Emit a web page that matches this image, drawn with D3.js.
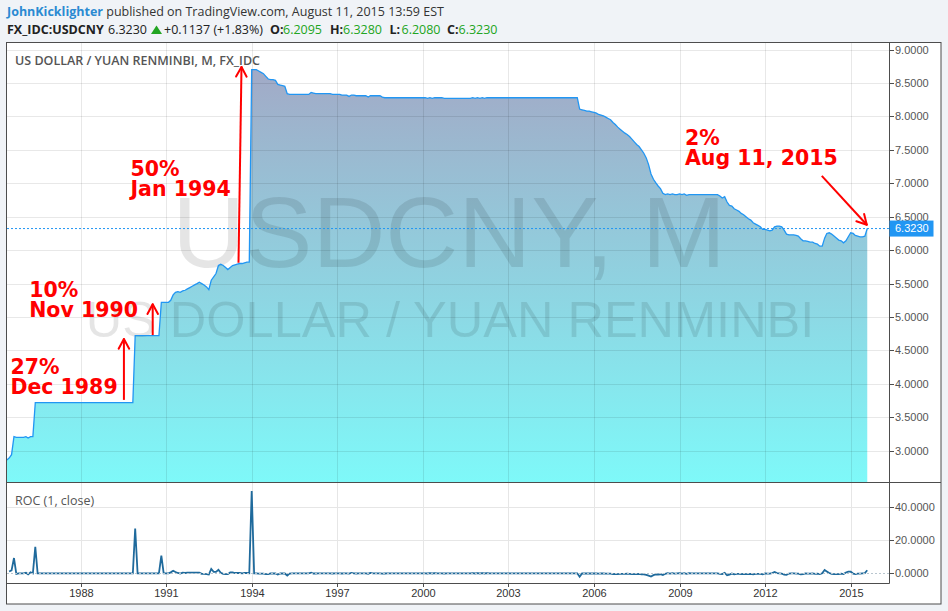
<!DOCTYPE html>
<html><head><meta charset="utf-8">
<script src="https://cdn.jsdelivr.net/npm/d3@7"></script>
<style>
html,body{margin:0;padding:0;background:#f0f3f7;}
svg{display:block;}
</style></head><body>
<svg id="c" width="948" height="611"></svg>
<script>
// ---------------- DATA ----------------
const startYear = 1985, startMonth = 5; // first monthly close: June 1985
const closes1985to1989 = [
  2.86, 2.89, 2.94, 3.21, 3.20, 3.20, 3.20,
  3.20, 3.21, 3.19, 3.21, 3.21, 3.72, 3.72, 3.72, 3.72, 3.72, 3.72, 3.72,
  3.72, 3.72, 3.72, 3.72, 3.72, 3.72, 3.72, 3.72, 3.72, 3.72, 3.72, 3.72,
  3.72, 3.72, 3.72, 3.72, 3.72, 3.72, 3.72, 3.72, 3.72, 3.72, 3.72, 3.72,
  3.72, 3.72, 3.72, 3.72, 3.72, 3.72, 3.72, 3.72, 3.72, 3.72, 3.72, 4.72
];
const closes1990to1994 = [
  4.72, 4.72, 4.72, 4.72, 4.72, 4.72, 4.72, 4.72, 4.72, 4.72, 5.22, 5.22,
  5.22, 5.22, 5.25, 5.33, 5.37, 5.38, 5.37, 5.39, 5.40, 5.42, 5.44, 5.46,
  5.48, 5.50, 5.52, 5.50, 5.48, 5.45, 5.41, 5.55, 5.60, 5.65, 5.77, 5.79,
  5.77, 5.74, 5.71, 5.74, 5.77, 5.78, 5.79, 5.80, 5.80, 5.81, 5.82, 5.82,
  8.70, 8.70, 8.70, 8.68, 8.66, 8.64, 8.60, 8.56, 8.55, 8.55, 8.54, 8.48
];
const closes1995to1999 = [
  8.47, 8.46, 8.45, 8.34, 8.33, 8.33, 8.33, 8.33, 8.33, 8.33, 8.33, 8.33,
  8.33, 8.36, 8.35, 8.34, 8.34, 8.34, 8.34, 8.34, 8.34, 8.34, 8.33, 8.33,
  8.33, 8.33, 8.32, 8.32, 8.32, 8.30, 8.32, 8.32, 8.31, 8.31, 8.31, 8.31,
  8.31, 8.29, 8.31, 8.31, 8.31, 8.31, 8.31, 8.29, 8.28, 8.28, 8.28, 8.28,
  8.28, 8.28, 8.28, 8.28, 8.28, 8.28, 8.28, 8.28, 8.28, 8.28, 8.28, 8.28
];
const closes2000to2004 = [
  8.28, 8.28, 8.27, 8.28, 8.27, 8.28, 8.28, 8.28, 8.28, 8.27, 8.27, 8.27,
  8.27, 8.27, 8.27, 8.27, 8.27, 8.27, 8.27, 8.27, 8.27, 8.28, 8.27, 8.28,
  8.27, 8.28, 8.27, 8.28, 8.28, 8.28, 8.28, 8.28, 8.28, 8.28, 8.28, 8.28,
  8.28, 8.28, 8.28, 8.28, 8.28, 8.28, 8.28, 8.28, 8.28, 8.28, 8.28, 8.28,
  8.28, 8.28, 8.28, 8.28, 8.28, 8.28, 8.28, 8.28, 8.28, 8.28, 8.28, 8.28
];
const closes2005to2009 = [
  8.28, 8.28, 8.28, 8.28, 8.28, 8.28, 8.11, 8.10, 8.09, 8.08, 8.08, 8.07,
  8.06, 8.05, 8.03, 8.02, 8.01, 7.99, 7.97, 7.95, 7.91, 7.88, 7.84, 7.81,
  7.78, 7.75, 7.73, 7.70, 7.66, 7.62, 7.58, 7.55, 7.50, 7.45, 7.38, 7.28,
  7.14, 7.06, 7.01, 6.96, 6.92, 6.85, 6.83, 6.84, 6.83, 6.84, 6.83, 6.83,
  6.84, 6.83, 6.84, 6.82, 6.83, 6.83, 6.83, 6.83, 6.83, 6.83, 6.83, 6.83
];
const closes2010to2015 = [
  6.83, 6.83, 6.83, 6.83, 6.83, 6.81, 6.78, 6.80, 6.72, 6.67, 6.66, 6.62,
  6.60, 6.58, 6.55, 6.53, 6.50, 6.47, 6.45, 6.41, 6.39, 6.37, 6.35, 6.31,
  6.31, 6.30, 6.29, 6.30, 6.35, 6.36, 6.36, 6.35, 6.30, 6.24, 6.23, 6.23,
  6.23, 6.22, 6.21, 6.17, 6.14, 6.14, 6.13, 6.12, 6.12, 6.10, 6.09, 6.06,
  6.06, 6.18, 6.25, 6.26, 6.24, 6.21, 6.18, 6.15, 6.14, 6.11, 6.14, 6.20,
  6.26, 6.25, 6.22, 6.21, 6.20, 6.20, 6.21, 6.323
];
const lastClose = 6.3230;
const priceTicks = [3.0, 3.5, 4.0, 4.5, 5.0, 5.5, 6.0, 6.5, 7.0, 7.5, 8.0, 8.5, 9.0];
const rocTicks = [0, 20, 40];
const yearTicks = [1988, 1991, 1994, 1997, 2000, 2003, 2006, 2009, 2012, 2015];

const headerAuthor = "JohnKicklighter";
const headerRest = " published on TradingView.com, August 11, 2015 13:59 EST";
const symbolName = "FX_IDC:USDCNY";
const symbolLast = "6.3230";
const symbolChange = "+0.1137 (+1.83%)";
const ohlcLabels = ["O:", "H:", "L:", "C:"];
const ohlcValues = ["6.2095", "6.3280", "6.2080", "6.3230"];
const paneTitle = "US DOLLAR / YUAN RENMINBI, M, FX_IDC";
const rocTitle = "ROC (1, close)";
const watermark1 = "USDCNY, M";
const watermark2 = "US DOLLAR / YUAN RENMINBI";

// annotations in data coordinates: [fractional year, price]
const annotationTexts = [["27%", "Dec 1989"], ["10%", "Nov 1990"], ["50%", "Jan 1994"], ["2%", "Aug 11, 2015"]];
const annotationAt = [[1985.54, 4.14], [1986.20, 5.30], [1989.75, 7.11], [2009.19, 7.57]];
const arrowFrom = [[1989.52, 3.76], [1990.53, 4.73], [1993.537, 5.81], [2013.986, 7.11]];
const arrowTo   = [[1989.52, 4.67], [1990.53, 5.19], [1993.642, 8.74], [2015.564, 6.38]];

// ---------------- LAYOUT ----------------
const W = 948, H = 611;
const L = 7, R = 889, FR = 941, T = 43, MB = 483, RB = 583, FB = 604;
const svg = d3.select("#c");

function fy(v) {
  const yr = Math.floor(v);
  const a = new Date(yr, 0, 1), b = new Date(yr + 1, 0, 1);
  return new Date(+a + (v - yr) * (b - a));
}

const closes = [].concat(closes1985to1989, closes1990to1994, closes1995to1999,
                         closes2000to2004, closes2005to2009, closes2010to2015);
const data = closes.map((c, i) => ({date: new Date(startYear, startMonth + i, 1), close: c}));
const roc = data.slice(1).map((d, i) => ({date: d.date, v: (d.close / data[i].close - 1) * 100}));

const x = d3.scaleTime().domain([new Date(1994, 0, 1), new Date(2015, 0, 1)]).range([251.7, 850.7]);
const y = d3.scaleLinear().domain([3, 7]).range([450.7, 183.3]);
const yr = d3.scaleLinear().domain([0, 40]).range([573.3, 506.7]);

svg.append("rect").attr("width", W).attr("height", H).attr("fill", "#f0f3f7");
svg.append("rect").attr("x", L).attr("y", T).attr("width", FR - L).attr("height", FB - T).attr("fill", "#fff");

const defs = svg.append("defs");
defs.append("clipPath").attr("id", "clipMain").append("rect")
  .attr("x", L).attr("y", T).attr("width", R - L).attr("height", MB - T);
defs.append("clipPath").attr("id", "clipRoc").append("rect")
  .attr("x", L).attr("y", MB).attr("width", R - L).attr("height", RB - MB);
const grad = defs.append("linearGradient").attr("id", "areaGrad")
  .attr("gradientUnits", "userSpaceOnUse").attr("x1", 0).attr("x2", 0)
  .attr("y1", y(8.75)).attr("y2", MB);
grad.append("stop").attr("offset", 0).attr("stop-color", "#a2a9c6");
grad.append("stop").attr("offset", 1).attr("stop-color", "#7ef9f9");

// ---------------- MAIN PANE ----------------
const main = svg.append("g").attr("clip-path", "url(#clipMain)");
main.append("path").datum(data)
  .attr("d", d3.area().x(d => x(d.date)).y0(MB).y1(d => y(d.close)))
  .attr("fill", "url(#areaGrad)");

// gridlines (drawn over the area, semi-transparent)
main.selectAll(".hg").data(priceTicks).enter().append("line")
  .attr("x1", L).attr("x2", R)
  .attr("y1", d => Math.round(y(d)) + 0.5).attr("y2", d => Math.round(y(d)) + 0.5)
  .attr("stroke", "rgba(0,0,0,0.09)");
main.selectAll(".vg").data(yearTicks).enter().append("line")
  .attr("y1", T).attr("y2", MB)
  .attr("x1", d => Math.round(x(new Date(d, 0, 1))) + 0.5)
  .attr("x2", d => Math.round(x(new Date(d, 0, 1))) + 0.5)
  .attr("stroke", "rgba(0,0,0,0.09)");

// watermark
main.append("text").text(watermark1)
  .attr("x", (L + R) / 2 + 1).attr("y", 267).attr("text-anchor", "middle")
  .attr("font-family", "'Liberation Sans', Arial, sans-serif").attr("font-size", 101)
  .attr("fill", "rgba(0,0,0,0.10)");
main.append("text").text(watermark2)
  .attr("x", (L + R) / 2 + 2).attr("y", 337).attr("text-anchor", "middle")
  .attr("font-family", "'Liberation Sans', Arial, sans-serif").attr("font-size", 50.5)
  .attr("fill", "rgba(0,0,0,0.10)");

main.append("path").datum(data)
  .attr("d", d3.line().x(d => x(d.date)).y(d => y(d.close)))
  .attr("fill", "none").attr("stroke", "#2196f3").attr("stroke-width", 1.3);

// last price dotted line
main.append("line").attr("x1", L).attr("x2", R)
  .attr("y1", y(lastClose)).attr("y2", y(lastClose))
  .attr("stroke", "#2196f3").attr("stroke-dasharray", "2,2").attr("stroke-width", 1);

// pane title
svg.append("text").text(paneTitle).attr("x", 15).attr("y", 65)
  .attr("font-family", "'Open Sans', sans-serif").attr("font-size", 12.5).attr("font-weight", 600)
  .attr("fill", "#555");

// annotations
const ann = svg.append("g");
annotationTexts.forEach((lines, i) => {
  const px = x(fy(annotationAt[i][0])), py = y(annotationAt[i][1]);
  const t = ann.append("text").attr("x", px).attr("y", py)
    .attr("font-family", "'DejaVu Sans', Verdana, sans-serif").attr("font-weight", "bold")
    .attr("font-size", 20.5).attr("fill", "#ff0000");
  lines.forEach((s, j) => t.append("tspan").attr("x", px).attr("dy", j === 0 ? 0 : 20).text(s));
});
arrowFrom.forEach((f, i) => {
  const x1 = x(fy(f[0])), y1 = y(f[1]);
  const x2 = x(fy(arrowTo[i][0])), y2 = y(arrowTo[i][1]);
  const ang = Math.atan2(y2 - y1, x2 - x1);
  const len = 11, spread = 0.5;
  ann.append("line").attr("x1", x1).attr("y1", y1).attr("x2", x2).attr("y2", y2)
    .attr("stroke", "#ff0000").attr("stroke-width", 2);
  [-spread, spread].forEach(s => {
    ann.append("line").attr("x1", x2).attr("y1", y2)
      .attr("x2", x2 - len * Math.cos(ang + s)).attr("y2", y2 - len * Math.sin(ang + s))
      .attr("stroke", "#ff0000").attr("stroke-width", 2).attr("stroke-linecap", "round");
  });
});

// ---------------- ROC PANE ----------------
const rp = svg.append("g").attr("clip-path", "url(#clipRoc)");
rp.selectAll(".rh").data(rocTicks.filter(d => d !== 0)).enter().append("line")
  .attr("x1", L).attr("x2", R)
  .attr("y1", d => Math.round(yr(d)) + 0.5).attr("y2", d => Math.round(yr(d)) + 0.5)
  .attr("stroke", "#e6e6e6");
rp.selectAll(".rv").data(yearTicks).enter().append("line")
  .attr("y1", MB).attr("y2", RB)
  .attr("x1", d => Math.round(x(new Date(d, 0, 1))) + 0.5)
  .attr("x2", d => Math.round(x(new Date(d, 0, 1))) + 0.5)
  .attr("stroke", "#e6e6e6");
rp.append("path").datum(roc)
  .attr("d", d3.line().x(d => x(d.date)).y(d => yr(d.v)))
  .attr("fill", "none").attr("stroke", "#1f6a9c").attr("stroke-width", 1.8);
rp.append("line").attr("x1", L).attr("x2", R)
  .attr("y1", Math.round(yr(0)) + 0.5).attr("y2", Math.round(yr(0)) + 0.5)
  .attr("stroke", "#b9c6cf").attr("stroke-dasharray", "2,2");
svg.append("text").text(rocTitle).attr("x", 15).attr("y", 505)
  .attr("font-family", "'Open Sans', sans-serif").attr("font-size", 12.5)
  .attr("fill", "#555");

// ---------------- FRAMES & AXES ----------------
const fc = "#4d4d4d";
svg.append("rect").attr("x", L - 0.5).attr("y", T - 0.5).attr("width", FR - L + 0.5).attr("height", FB - T + 0.5)
  .attr("fill", "none").attr("stroke", fc);
svg.append("line").attr("x1", L - 0.5).attr("x2", FR).attr("y1", MB - 0.5).attr("y2", MB - 0.5).attr("stroke", fc);
svg.append("line").attr("x1", L - 0.5).attr("x2", R + 0.5).attr("y1", RB + 0.5).attr("y2", RB + 0.5).attr("stroke", fc);
svg.append("line").attr("x1", R + 0.5).attr("x2", R + 0.5).attr("y1", T - 0.5).attr("y2", RB + 0.5).attr("stroke", fc);

const axFont = "'Liberation Sans', Arial, sans-serif";
const pa = svg.append("g");
priceTicks.forEach(v => {
  const py = Math.round(y(v)) + 0.5;
  pa.append("line").attr("x1", R + 1).attr("x2", R + 5).attr("y1", py).attr("y2", py).attr("stroke", fc);
  pa.append("text").text(d3.format(".4f")(v)).attr("x", 895).attr("y", py).attr("dy", "0.35em")
    .attr("font-family", axFont).attr("font-size", 11).attr("fill", "#555");
});
rocTicks.forEach(v => {
  const py = Math.round(yr(v)) + 0.5;
  pa.append("line").attr("x1", R + 1).attr("x2", R + 5).attr("y1", py).attr("y2", py).attr("stroke", fc);
  pa.append("text").text(d3.format(".4f")(v)).attr("x", 895).attr("y", py).attr("dy", "0.35em")
    .attr("font-family", axFont).attr("font-size", 11).attr("fill", "#555");
});
yearTicks.forEach(v => {
  const px = Math.round(x(new Date(v, 0, 1))) + 0.5;
  pa.append("line").attr("x1", px).attr("x2", px).attr("y1", RB + 1).attr("y2", RB + 4).attr("stroke", fc);
  pa.append("text").text(v).attr("x", px).attr("y", 597).attr("text-anchor", "middle")
    .attr("font-family", axFont).attr("font-size", 11).attr("fill", "#333");
});

// last price label
const lp = y(lastClose);
svg.append("rect").attr("x", R + 0.5).attr("y", lp - 8).attr("width", 44).attr("height", 16).attr("fill", "#2196f3");
svg.append("text").text(d3.format(".4f")(lastClose)).attr("x", 895).attr("y", lp).attr("dy", "0.35em")
  .attr("font-family", axFont).attr("font-size", 11).attr("fill", "#fff");

// ---------------- HEADER ----------------
const hf = "'Open Sans', sans-serif";
const green = "#22a522";
const h1 = svg.append("text").attr("x", 7).attr("y", 15.5).attr("font-family", hf).attr("font-size", 12.5);
h1.append("tspan").text(headerAuthor).attr("font-weight", "bold").attr("fill", "#2a8ad2");
h1.append("tspan").text(headerRest).attr("fill", "#333");

const hy = 34;
svg.append("text").text(symbolName).attr("x", 7).attr("y", hy).attr("font-family", hf)
  .attr("font-size", 12.5).attr("font-weight", "bold").attr("fill", "#222");
svg.append("text").text(symbolLast).attr("x", 108).attr("y", hy).attr("font-family", hf)
  .attr("font-size", 12.5).attr("fill", "#222");
svg.append("path").attr("d", "M151,34 L156.5,25.5 L162,34 Z").attr("fill", green);
svg.append("text").text(symbolChange).attr("x", 164).attr("y", hy).attr("font-family", hf)
  .attr("font-size", 12.5).attr("fill", "#222");
const lblX = [270, 330, 389.5, 447], valX = [283, 343, 401.5, 458.5];
ohlcLabels.forEach((s, i) => {
  svg.append("text").text(s).attr("x", lblX[i]).attr("y", hy).attr("font-family", hf)
    .attr("font-size", 12.5).attr("font-weight", "bold").attr("fill", "#222");
  svg.append("text").text(ohlcValues[i]).attr("x", valX[i]).attr("y", hy).attr("font-family", hf)
    .attr("font-size", 12.5).attr("fill", green);
});
</script>
</body></html>
